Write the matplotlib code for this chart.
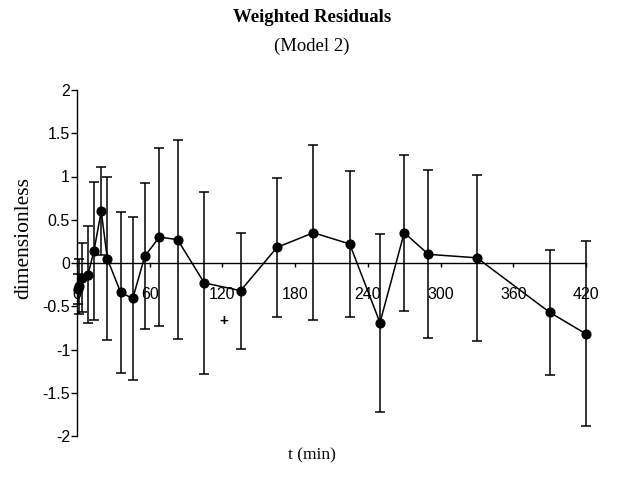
import numpy as np
from matplotlib import pyplot as plt

# Sampling times (min) and weighted residuals
t = [0.5, 2, 4, 9, 14, 20, 25, 36, 46, 56, 68, 83, 105, 135,
     165, 195, 225, 250, 270, 290, 330, 390, 420]
resid = [-0.30, -0.27, -0.17, -0.135, 0.14, 0.60, 0.05, -0.34, -0.41, 0.08, 0.30, 0.27, -0.23, -0.32,
         0.18, 0.35, 0.22, -0.69, 0.35, 0.10, 0.06, -0.57, -0.82]
err = [0.17, 0.32, 0.40, 0.56, 0.80, 0.51, 0.94, 0.93, 0.94, 0.84, 1.03, 1.15, 1.05, 0.67,
       0.80, 1.01, 0.84, 1.03, 0.90, 0.97, 0.96, 0.72, 1.07]
xticks = [0, 60, 120, 180, 240, 300, 360, 420]
yticks = [-2, -1.5, -1, -0.5, 0, 0.5, 1, 1.5, 2]
ytick_labels = ['-2', '-1.5', '-1', '-0.5', '0', '0.5', '1', '1.5', '2']
plus_mark = (121, -0.67)

sans = 'Liberation Sans'
serif = 'Liberation Serif'

fig = plt.figure(figsize=(6.19, 4.91), dpi=100)
ax = fig.add_axes([77 / 619, 1 - 436 / 491, 509 / 619, 346 / 491])

eb = ax.errorbar(t, resid, yerr=err, color='k', linewidth=1.1, elinewidth=1.1,
                 capsize=3.5, capthick=1.1, marker='o', markersize=6.3, zorder=3)
# the last point sits on the right limit, so don't clip
for art in eb.get_children():
    art.set_clip_on(False)
ax.text(*plus_mark, '+', fontsize=11, fontfamily=sans, fontweight='bold',
        ha='center', va='center')

ax.set_xlim(0, 420)
ax.set_ylim(-2, 2)
ax.spines['top'].set_visible(False)
ax.spines['right'].set_visible(False)
ax.spines['bottom'].set_position(('data', 0))
for s in ('left', 'bottom'):
    ax.spines[s].set_linewidth(1.0)

ax.set_xticks(xticks)
ax.set_xticklabels([str(v) for v in xticks], fontfamily=sans, fontsize=11.5)
ax.set_yticks(yticks)
ax.set_yticklabels(ytick_labels, fontfamily=sans, fontsize=11.5)
ax.tick_params(axis='x', direction='out', length=3, width=1, pad=14)
ax.tick_params(axis='y', direction='out', length=4, width=1, pad=1)

fig.text(0.504, 1 - 18 / 491, 'Weighted Residuals', ha='center', va='center',
         fontfamily=serif, fontweight='bold', fontsize=13.5)
fig.text(0.504, 1 - 46 / 491, '(Model 2)', ha='center', va='center',
         fontfamily=serif, fontsize=13.5)
fig.text(24 / 619, 1 - 238 / 491, 'dimensionless', rotation=90, ha='center', va='center',
         fontfamily=serif, fontsize=15.5)
fig.text(0.504, 1 - 455 / 491, 't (min)', ha='center', va='center',
         fontfamily=serif, fontsize=12.5)

fig.savefig('out.png', dpi=100)
